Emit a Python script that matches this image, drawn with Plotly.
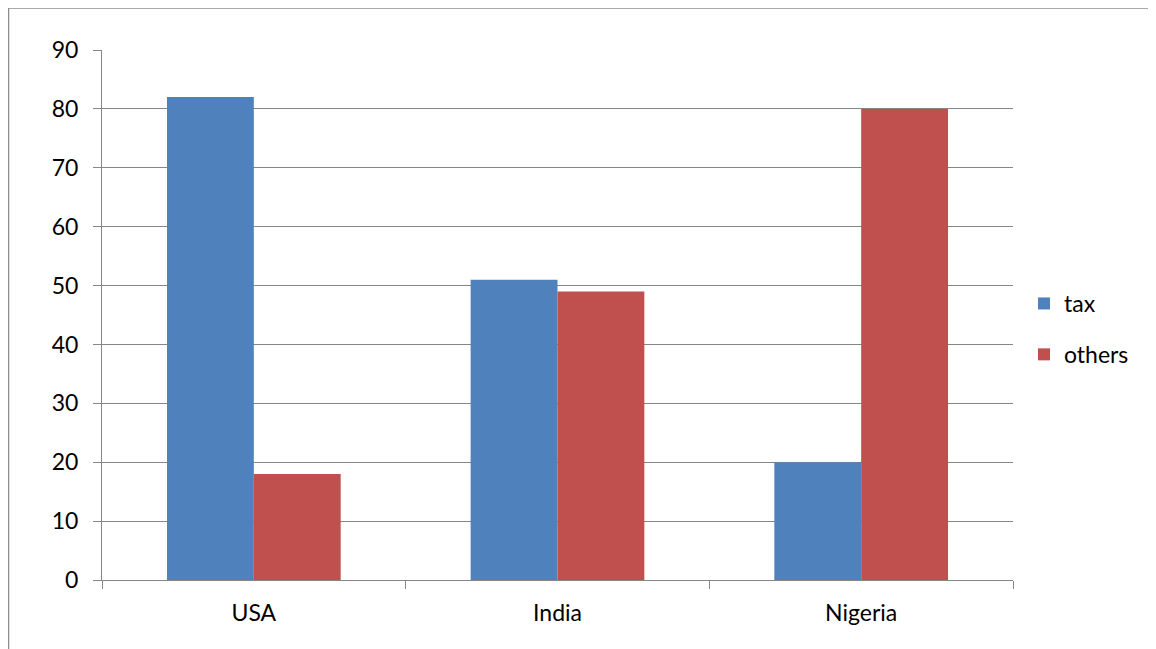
import plotly.graph_objects as go

categories = ["USA", "India", "Nigeria"]
tax = [82, 51, 20]
others = [18, 49, 80]
y_ticks = [0, 10, 20, 30, 40, 50, 60, 70, 80, 90]

W, H = 1156, 649
# plot area in figure pixels (page is offset by 8px body margin)
L, R, T, B = 94, 1005, 42, 572

fig = go.Figure()
fig.add_trace(go.Bar(x=categories, y=tax, name="tax", marker=dict(color="#4F81BD", line=dict(width=0)), legendgroup="a"))
fig.add_trace(go.Bar(x=categories, y=others, name="others", marker=dict(color="#C0504D", line=dict(width=0)), legendgroup="b"))

pw, ph = R - L, B - T
def px(x): return (x - L) / pw
def py(y): return (B - y) / ph

fig.update_layout(
    width=W, height=H,
    margin=dict(l=L, r=W - R, t=T, b=H - B, pad=0),
    paper_bgcolor="white", plot_bgcolor="white",
    font=dict(family="Lato, 'Open Sans', sans-serif", size=23, color="#000000"),
    barmode="group", bargap=0.428, bargroupgap=0,
    xaxis=dict(showline=True, linecolor="#868686", linewidth=1, ticks="outside", ticklen=8,
               tickcolor="#868686", tickson="boundaries", showgrid=False, tickfont=dict(size=23),
               ticklabelstandoff=12),
    yaxis=dict(range=[0, 90], tickvals=y_ticks, showline=True, linecolor="#868686", linewidth=1,
               ticks="outside", ticklen=8, tickcolor="#868686", showgrid=True, gridcolor="#868686",
               gridwidth=1, zeroline=False, tickfont=dict(size=23), ticklabelstandoff=10),
    legend=dict(x=px(1016), y=py(274), xanchor="left", yanchor="top", tracegroupgap=18,
                font=dict(size=23), bgcolor="rgba(0,0,0,0)", itemwidth=30),
    shapes=[
        dict(type="line", xref="paper", yref="paper", x0=px(0), x1=px(W + 5), y0=py(0), y1=py(0),
             line=dict(color="#8c8c8c", width=1.5)),
        dict(type="line", xref="paper", yref="paper", x0=px(0.5), x1=px(0.5), y0=py(0), y1=py(H + 5),
             line=dict(color="#8c8c8c", width=1.5)),
    ],
)

fig.write_html("out.html")
